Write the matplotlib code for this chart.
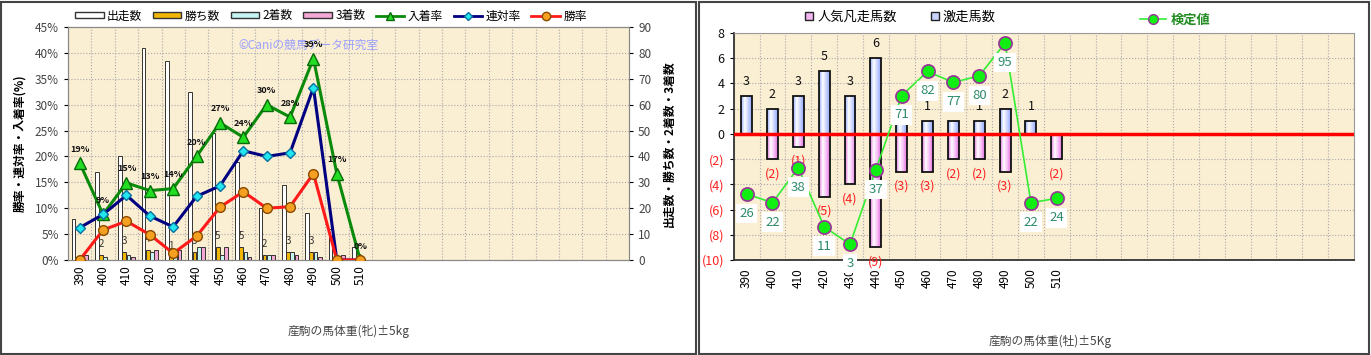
import numpy as np
import matplotlib
matplotlib.use('Agg')
import matplotlib.pyplot as plt
from matplotlib.patches import Rectangle, Patch
from matplotlib.lines import Line2D
from matplotlib.colors import LinearSegmentedColormap

plt.rcParams['font.family'] = ['Noto Sans CJK JP', 'DejaVu Sans']

# ---- data (left: 牝) ----
weights = ['390', '400', '410', '420', '430', '440', '450', '460', '470', '480', '490', '500', '510']
runs = [16, 34, 40, 82, 77, 65, 49, 38, 20, 29, 18, 12, 5]
wins = [0, 2, 3, 4, 1, 3, 5, 5, 2, 3, 3, 0, 0]
second = [1, 1, 2, 3, 4, 5, 2, 3, 2, 3, 3, 0, 0]
third = [2, 0, 1, 4, 4, 5, 5, 1, 2, 2, 1, 2, 0]
win_rate = [0, 5.8, 7.5, 4.9, 1.3, 4.6, 10.2, 13.2, 10.0, 10.3, 16.7, 0, 0]
rentai_rate = [6.25, 8.8, 12.5, 8.5, 6.4, 12.3, 14.3, 21.1, 20.0, 20.7, 33.3, 0, 0]
place_rate = [18.75, 8.8, 14.9, 13.4, 13.8, 20.0, 26.5, 23.7, 30.0, 27.6, 38.9, 16.7, 0]
place_labels = ['19%', '9%', '15%', '13%', '14%', '20%', '27%', '24%', '30%', '28%', '39%', '17%', '0%']

# ---- data (right: 牡) ----
gekisou = [3, 2, 3, 5, 3, 6, 2, 1, 1, 1, 2, 1, 0]
bonsou = [0, 2, 1, 5, 4, 9, 3, 3, 2, 2, 3, 0, 2]
kentei = [26, 22, 38, 11, 3, 37, 71, 82, 77, 80, 95, 22, 24]

n_slots = 24
W, H = 1371, 355
fig = plt.figure(figsize=(W / 100, H / 100), dpi=100)
fig.patch.set_facecolor('white')

# panel borders
fig.add_artist(Rectangle((1 / W, 1 / H), 695 / W, 352 / H, transform=fig.transFigure,
                         fill=False, edgecolor='#444444', lw=1.5))
fig.add_artist(Rectangle((699 / W, 1 / H), 670 / W, 352 / H, transform=fig.transFigure,
                         fill=False, edgecolor='#444444', lw=1.5))

bg = '#faeed3'
grid_kw = dict(color='#aaaaaa', linestyle=':', linewidth=0.8)

# ================= left chart =================
axc = fig.add_axes([68 / W, 1 - 260 / H, 561 / W, 233 / H])
axp = axc.twinx()
axc.yaxis.tick_right()
axp.yaxis.tick_left()
# draw rates above the bars
axp.set_zorder(axc.get_zorder() + 1)
axp.patch.set_visible(False)
axc.set_facecolor(bg)

x = np.arange(len(weights))
bw = 0.16
offs = [-0.27, -0.09, 0.09, 0.27]
bar_cols = ['#ffffff', '#f2b705', '#c8f4f4', '#f5a8d6']
bar_names = ['出走数', '勝ち数', '2着数', '3着数']
for vals, off, col in zip([runs, wins, second, third], offs, bar_cols):
    axc.bar(x + off, vals, bw, color=col, edgecolor='#333333', linewidth=0.7, zorder=3)
for xi, v in zip(x, wins):
    if v > 0:
        axc.annotate(str(v), (xi - 0.09, v), xytext=(0, 8), textcoords='offset points',
                     ha='center', va='center', fontsize=7, color='#333333', zorder=4)

axc.set_ylim(0, 90)
axc.set_yticks(np.arange(0, 91, 10))
axc.set_xlim(-0.5, n_slots - 0.5)
axc.set_xticks(np.arange(n_slots) - 0.5, minor=True)
axc.grid(True, which='minor', axis='x', **grid_kw)
axc.grid(True, which='major', axis='y', **grid_kw)
axc.set_axisbelow(True)
axc.set_xticks(x)
axc.set_xticklabels(weights, rotation=90, fontsize=8.5)
axc.tick_params(axis='x', which='both', length=0, pad=4)
axc.tick_params(axis='y', labelsize=8.5, labelcolor='#444444', length=3)
axc.set_ylabel('出走数・勝ち数・2着数・3着数', fontsize=8.5, fontweight='bold', labelpad=8)
axc.yaxis.set_label_position('right')

axp.plot(x, place_rate, color='#0a8a0a', lw=2.2, marker='^', ms=8,
         mfc='#22dd22', mec='#0a6a0a', zorder=5)
axp.plot(x, rentai_rate, color='#000080', lw=2.2, marker='D', ms=5,
         mfc='#22e6f0', mec='#0a70a0', zorder=6)
axp.plot(x, win_rate, color='#ff1a1a', lw=2.2, marker='o', ms=7,
         mfc='#f5a020', mec='#8a4a00', zorder=7)
for xi, v, t in zip(x, place_rate, place_labels):
    axp.annotate(t, (xi, v), xytext=(0, 10), textcoords='offset points', ha='center',
                 va='center', fontsize=6.5, fontweight='bold', color='#111111', zorder=8)
axp.set_ylim(0, 45)
axp.set_yticks(np.arange(0, 46, 5))
axp.set_yticklabels([f'{v}%' for v in range(0, 46, 5)])
axp.tick_params(axis='y', labelsize=8.5, labelcolor='#444444', length=3)
axp.set_ylabel('勝率・連対率・入着率(%)', fontsize=8.5, fontweight='bold', labelpad=6)
axp.yaxis.set_label_position('left')
for a in (axc, axp):
    for s in a.spines.values():
        s.set_color('#888888')

axc.text((238 - 68) / 561, (260 - 45) / 233, '©Caniの競馬データ研究室', transform=axc.transAxes,
         fontsize=8.5, color='#9aa0ff', va='center', ha='left', zorder=9)

left_handles = [Patch(facecolor=c, edgecolor='#333333', linewidth=1) for c in bar_cols]
left_handles += [Line2D([], [], color='#0a8a0a', lw=2, marker='^', ms=6, mfc='#22dd22', mec='#0a6a0a'),
                 Line2D([], [], color='#000080', lw=2, marker='D', ms=4, mfc='#22e6f0', mec='#0a70a0'),
                 Line2D([], [], color='#ff1a1a', lw=2, marker='o', ms=6, mfc='#f5a020', mec='#8a4a00')]
fig.legend(left_handles, bar_names + ['入着率', '連対率', '勝率'], ncol=7, loc='center',
           bbox_to_anchor=(331 / W, 1 - 16 / H), frameon=False, fontsize=8.5,
           handlelength=2.4, handleheight=0.45, columnspacing=0.9, handletextpad=0.3)
fig.text(349 / W, 1 - 331 / H, '産駒の馬体重(牝)±5kg', ha='center', va='center',
         fontsize=8.5, color='#444444')

# ================= right chart =================
ax = fig.add_axes([733.7 / W, 1 - 260 / H, 620.3 / W, 227 / H])
ax.set_facecolor(bg)
x2 = np.arange(len(weights))
bw2 = 0.42
pos_bars = ax.bar(x2, gekisou, bw2, color='none', edgecolor='#111111', linewidth=1.3, zorder=4)
neg_bars = ax.bar(x2, [-v for v in bonsou], bw2, color='none', edgecolor='#111111', linewidth=1.3, zorder=4)

blue_cm = LinearSegmentedColormap.from_list('b', ['#8fa8ff', '#ffffff', '#c9d3ff', '#8fa8ff'])
pink_cm = LinearSegmentedColormap.from_list('p', ['#e070e0', '#ffffff', '#f8c0f5', '#e070e0'])
grad = np.linspace(0, 1, 64).reshape(1, -1)
for bars, cm in ((pos_bars, blue_cm), (neg_bars, pink_cm)):
    for b in bars:
        h = b.get_height()
        if h == 0:
            continue
        y0, y1 = sorted([b.get_y(), b.get_y() + h])
        im = ax.imshow(grad, extent=[b.get_x(), b.get_x() + b.get_width(), y0, y1],
                       cmap=cm, aspect='auto', zorder=3, interpolation='bilinear')
        im.set_clip_path(b)

for xi, v in zip(x2, gekisou):
    if v > 0:
        ax.annotate(str(v), (xi, v), xytext=(0, 10.5), textcoords='offset points',
                    ha='center', va='center', fontsize=9, color='#111111', zorder=5)
for xi, v in zip(x2, bonsou):
    if v > 0:
        ax.annotate(f'({v})', (xi, -v), xytext=(0, -10.5), textcoords='offset points',
                    ha='center', va='center', fontsize=9, color='#ff2020', zorder=5)

ax.axhline(0, color='#ff0000', lw=2.5, zorder=4.5)
ax.set_ylim(-10, 8)
ax.set_xlim(-0.5, n_slots - 0.5)
ax.set_yticks(np.arange(-10, 9, 2))
ax.set_yticklabels([str(v) if v >= 0 else f'({-v})' for v in range(-10, 9, 2)], fontsize=9)
for lab, v in zip(ax.get_yticklabels(), range(-10, 9, 2)):
    lab.set_color('#111111' if v >= 0 else '#ff2020')
ax.set_xticks(np.arange(n_slots) - 0.5, minor=True)
ax.grid(True, which='minor', axis='x', **grid_kw)
ax.grid(True, which='major', axis='y', **grid_kw)
ax.set_axisbelow(True)
ax.set_xticks(x2)
ax.set_xticklabels(weights, rotation=90, fontsize=8.5)
ax.tick_params(axis='x', which='both', length=0, pad=6)
ax.tick_params(axis='y', length=3)
for s in ('top', 'right'):
    ax.spines[s].set_color('#999999')
for s in ('left', 'bottom'):
    ax.spines[s].set_color('#333333')
    ax.spines[s].set_linewidth(1.3)

axk = ax.twinx()
axk.set_ylim(-4.2, 99.6)
axk.set_yticks([])
for s in axk.spines.values():
    s.set_visible(False)
axk.plot(x2, kentei, color='#33ee33', lw=1.2, marker='o', ms=9.5,
         mfc='#11ee11', mec='#993399', mew=1.2, zorder=6)
for xi, v in zip(x2, kentei):
    axk.annotate(str(v), (xi, v), xytext=(0, -14), textcoords='offset points', ha='center',
                 va='center', fontsize=9.5, color='#2e8b6a', zorder=7,
                 bbox=dict(boxstyle='square,pad=0.25', fc='white', ec='none'))

right_handles = [Line2D([], [], ls='none', marker='s', ms=6, mfc='#f3b5f0', mec='#222222'),
                 Line2D([], [], ls='none', marker='s', ms=6, mfc='#c9d3ff', mec='#222222')]
fig.legend(right_handles, ['人気凡走馬数', '激走馬数'], ncol=2, loc='center',
           bbox_to_anchor=(900 / W, 1 - 17 / H), frameon=False, fontsize=9.5,
           handlelength=0.8, handletextpad=0.2, columnspacing=2.5)
kleg = fig.legend([Line2D([], [], color='#33ee33', lw=1.2, marker='o', ms=7, mfc='#11ee11', mec='#993399')],
                  ['検定値'], loc='center', bbox_to_anchor=(1175 / W, 1 - 20 / H), frameon=False,
                  fontsize=9.5, handlelength=2.0, handletextpad=0.3)
for t in kleg.get_texts():
    t.set_color('#228b22')
    t.set_fontweight('bold')
fig.text(1050 / W, 1 - 341 / H, '産駒の馬体重(牡)±5Kg', ha='center', va='center',
         fontsize=8.5, color='#444444')

fig.savefig('out.png', dpi=100)
